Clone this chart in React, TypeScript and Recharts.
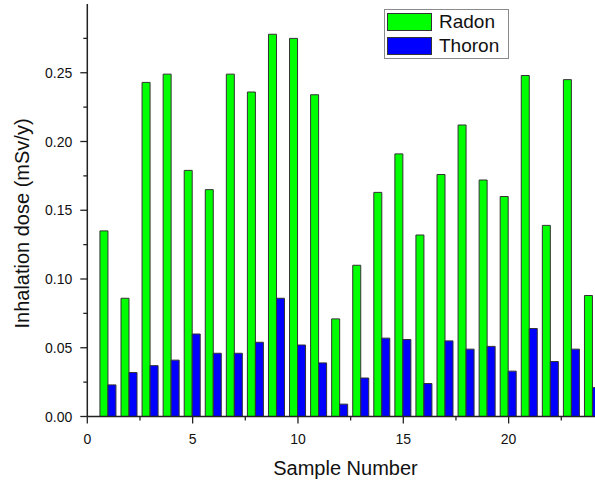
import { Bar, BarChart, Legend, XAxis, YAxis } from "recharts";

const samples = [1, 2, 3, 4, 5, 6, 7, 8, 9, 10, 11, 12, 13, 14, 15, 16, 17, 18, 19, 20, 21, 22, 23, 24];
const radon = [
  0.135, 0.086, 0.243, 0.249, 0.179, 0.165, 0.249, 0.236, 0.278, 0.275, 0.234, 0.071,
  0.11, 0.163, 0.191, 0.132, 0.176, 0.212, 0.172, 0.16, 0.248, 0.139, 0.245, 0.088,
];
const thoron = [
  0.023, 0.032, 0.037, 0.041, 0.06, 0.046, 0.046, 0.054, 0.086, 0.052, 0.039, 0.009,
  0.028, 0.057, 0.056, 0.024, 0.055, 0.049, 0.051, 0.033, 0.064, 0.04, 0.049, 0.021,
];
const xTicks = [0, 2.5, 5, 7.5, 10, 12.5, 15, 17.5, 20, 22.5];
const xMajor = [0, 5, 10, 15, 20];
const yTicks = [0, 0.025, 0.05, 0.075, 0.1, 0.125, 0.15, 0.175, 0.2, 0.225, 0.25, 0.275];
const yMajor = [0, 0.05, 0.1, 0.15, 0.2, 0.25];

const data = samples.map((sample, i) => ({ sample, radon: radon[i], thoron: thoron[i] }));

const FONT = '"Liberation Sans", Arial, sans-serif';
const AXIS = "#222";

function XTick({ x, y, payload }: any) {
  const major = xMajor.includes(payload.value);
  return (
    <g>
      <line x1={x} x2={x} y1={y} y2={y + (major ? 7 : 4)} stroke={AXIS} strokeWidth={1.3} />
      {major && (
        <text x={x} y={y + 27} textAnchor="middle" fontSize={14} fontFamily={FONT} fill="#111">
          {payload.value}
        </text>
      )}
    </g>
  );
}

function YTick({ x, y, payload }: any) {
  const major = yMajor.includes(payload.value);
  return (
    <g>
      <line x1={x - (major ? 7 : 4)} x2={x} y1={y} y2={y} stroke={AXIS} strokeWidth={1.3} />
      {major && (
        <text x={x - 15} y={y + 5} textAnchor="end" fontSize={14} fontFamily={FONT} fill="#111">
          {payload.value.toFixed(2)}
        </text>
      )}
    </g>
  );
}

function XTitle() {
  return (
    <text x={345.5} y={475} textAnchor="middle" fontSize={20} fontFamily={FONT} fill="#111">
      Sample Number
    </text>
  );
}

function YTitle() {
  return (
    <text
      x={0}
      y={0}
      transform="translate(29, 223.5) rotate(-90)"
      textAnchor="middle"
      fontSize={20}
      fontFamily={FONT}
      fill="#111"
    >
      Inhalation dose (mSv/y)
    </text>
  );
}

function LegendBox({ payload }: any) {
  return (
    <div
      style={{
        border: "1px solid #8a8a8a",
        background: "#fff",
        padding: "0 9px 0 2px",
        fontFamily: FONT,
        fontSize: 19,
        color: "#111",
      }}
    >
      {(payload || []).map((item: any) => (
        <div key={item.value} style={{ display: "flex", alignItems: "center", height: 24 }}>
          <span
            style={{
              display: "inline-block",
              width: 43,
              height: 16,
              background: item.color,
              border: "1px solid #333",
              marginRight: 7,
            }}
          />
          {item.value}
        </div>
      ))}
    </div>
  );
}

export default function App() {
  return (
    <div style={{ position: "absolute", left: 0, top: 0, background: "#fff" }}>
      <BarChart
        width={595}
        height={483}
        data={data}
        margin={{ top: 4, right: 0, bottom: 0, left: 0 }}
        barCategoryGap="10%"
        barGap={0}
      >
        <XAxis
          type="number"
          dataKey="sample"
          domain={[0, 24.1]}
          allowDataOverflow
          ticks={xTicks}
          interval={0}
          tickLine={false}
          tickSize={0}
          tickMargin={0}
          tick={<XTick />}
          height={66.5}
          axisLine={{ stroke: AXIS, strokeWidth: 1.5 }}
          label={<XTitle />}
        />
        <YAxis
          type="number"
          domain={[0, 0.3]}
          allowDataOverflow
          ticks={yTicks}
          interval={0}
          tickLine={false}
          tickSize={0}
          tickMargin={0}
          tick={<YTick />}
          width={87.3}
          axisLine={{ stroke: AXIS, strokeWidth: 1.5 }}
          label={<YTitle />}
        />
        <Legend
          layout="vertical"
          verticalAlign="middle"
          align="center"
          wrapperStyle={{ left: 384, top: 9 }}
          content={<LegendBox />}
        />
        <Bar dataKey="radon" name="Radon" fill="#00ff00" stroke="#333" strokeWidth={1} isAnimationActive={false} />
        <Bar dataKey="thoron" name="Thoron" fill="#0000ff" stroke="#333" strokeWidth={1} isAnimationActive={false} />
      </BarChart>
    </div>
  );
}
